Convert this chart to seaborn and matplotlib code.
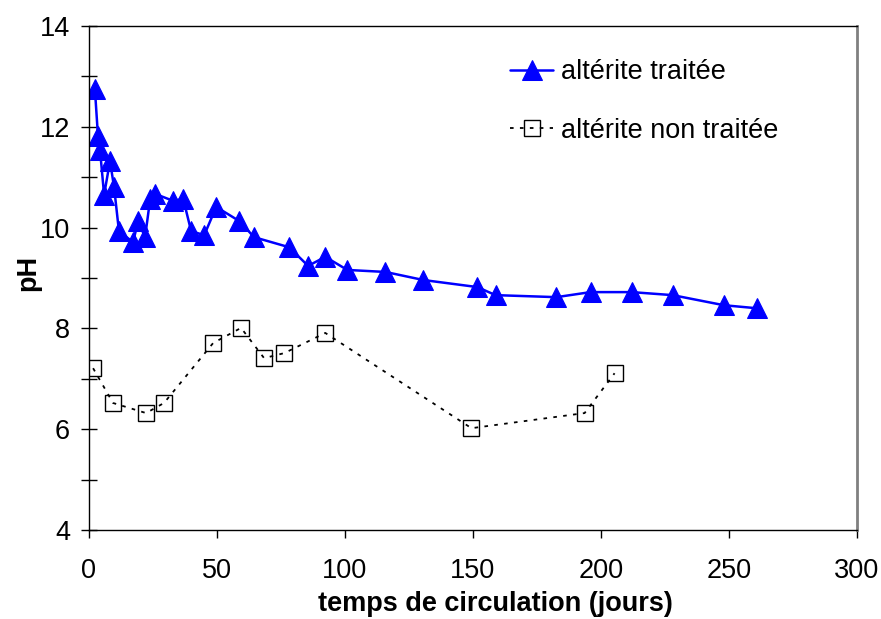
import matplotlib
matplotlib.use("Agg")
import matplotlib.pyplot as plt
import seaborn as sns
from matplotlib.ticker import MultipleLocator

# altérite traitée
jours_traitee = [2.3, 3.5, 4.3, 5.9, 8.2, 9.8, 11.7, 17.2, 19.2, 21.9, 23.9, 25.8,
                 32.9, 36.8, 39.9, 45.0, 49.7, 58.7, 64.5, 78.2, 85.6, 92.3, 100.9,
                 115.8, 130.6, 151.7, 158.8, 182.6, 195.9, 212.0, 228.0, 248.0, 260.8]
ph_traitee = [12.75, 11.82, 11.54, 10.65, 11.32, 10.8, 9.93, 9.71, 10.13, 9.81, 10.57,
              10.67, 10.53, 10.57, 9.93, 9.85, 10.41, 10.13, 9.81, 9.61, 9.24, 9.42,
              9.16, 9.12, 8.96, 8.82, 8.66, 8.62, 8.72, 8.72, 8.66, 8.46, 8.40]

# altérite non traitée
jours_non_traitee = [1.6, 9.4, 22.3, 29.3, 48.5, 59.4, 68.4, 76.3, 92.3, 149.4, 193.6, 205.3]
ph_non_traitee = [7.21, 6.52, 6.32, 6.52, 7.71, 8.01, 7.41, 7.51, 7.91, 6.02, 6.32, 7.11]

sns.set_style("white")
plt.rcParams['font.family'] = ['Liberation Sans', 'DejaVu Sans']
plt.rcParams['text.color'] = 'black'
plt.rcParams['axes.labelcolor'] = 'black'
plt.rcParams['xtick.color'] = 'black'
plt.rcParams['ytick.color'] = 'black'
fs = 19.5

fig = plt.figure(figsize=(8.81, 6.19), dpi=100)
ax = fig.add_axes([89 / 881, 89 / 619, 768 / 881, 504 / 619])

sns.lineplot(x=jours_traitee, y=ph_traitee, sort=False, estimator=None, ax=ax,
             color='#0000FF', linewidth=1.8, marker='^', markersize=14,
             markeredgecolor='#0000FF', label='altérite traitée')
sns.lineplot(x=jours_non_traitee, y=ph_non_traitee, sort=False, estimator=None, ax=ax,
             color='black', linewidth=1.3, dashes=(2, 3.5), marker='s', markersize=12,
             markerfacecolor='none', markeredgecolor='black', markeredgewidth=1.0,
             label='altérite non traitée')

ax.set_xlim(0, 300)
ax.set_ylim(4, 14)
ax.xaxis.set_major_locator(MultipleLocator(50))
ax.yaxis.set_major_locator(MultipleLocator(2))
ax.yaxis.set_minor_locator(MultipleLocator(1))

ax.tick_params(axis='y', which='both', direction='inout', length=11, width=1,
               labelsize=fs, pad=8, left=True)
ax.tick_params(axis='x', which='major', direction='out', length=6, width=1,
               labelsize=fs, pad=14, bottom=True)

for side in ['left', 'bottom', 'top']:
    ax.spines[side].set_color('black')
    ax.spines[side].set_linewidth(1)
ax.spines['right'].set_color('#808080')
ax.spines['right'].set_linewidth(2)

ax.set_xlabel('temps de circulation (jours)', fontsize=fs, fontweight='bold')
ax.set_ylabel('pH', fontsize=fs, fontweight='bold')
ax.xaxis.set_label_coords(0.529, -0.122)
ax.yaxis.set_label_coords(-0.062, 0.51)

ax.legend(loc='upper left', bbox_to_anchor=(510 / 881, 1 - 59 / 619),
          bbox_transform=fig.transFigure, frameon=False, fontsize=fs,
          handlelength=1.6, handletextpad=0.3, labelspacing=1.2,
          borderpad=0, borderaxespad=0)

fig.savefig('out.png', dpi=100)
